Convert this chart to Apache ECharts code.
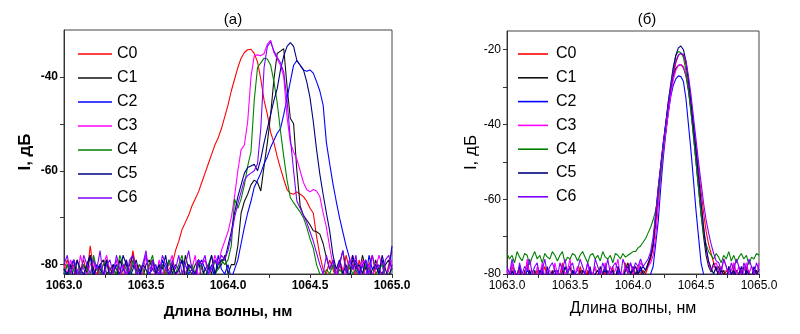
<!DOCTYPE html>
<html><head><meta charset="utf-8">
<script src="https://cdn.jsdelivr.net/npm/echarts@6/dist/echarts.min.js"></script>
<style>html,body{margin:0;padding:0;background:#fff}#c{width:800px;height:334px}</style>
</head><body><div id="c"></div>
<script>
// wavelength grid, nm
const wl = [1063.00,1063.02,1063.04,1063.06,1063.08,1063.10,1063.12,1063.14,1063.16,1063.18,
1063.20,1063.22,1063.24,1063.26,1063.28,1063.30,1063.32,1063.34,1063.36,1063.38,
1063.40,1063.42,1063.44,1063.46,1063.48,1063.50,1063.52,1063.54,1063.56,1063.58,
1063.60,1063.62,1063.64,1063.66,1063.68,1063.70,1063.72,1063.74,1063.76,1063.78,
1063.80,1063.82,1063.84,1063.86,1063.88,1063.90,1063.92,1063.94,1063.96,1063.98,
1064.00,1064.02,1064.04,1064.06,1064.08,1064.10,1064.12,1064.14,1064.16,1064.18,
1064.20,1064.22,1064.24,1064.26,1064.28,1064.30,1064.32,1064.34,1064.36,1064.38,
1064.40,1064.42,1064.44,1064.46,1064.48,1064.50,1064.52,1064.54,1064.56,1064.58,
1064.60,1064.62,1064.64,1064.66,1064.68,1064.70,1064.72,1064.74,1064.76,1064.78,
1064.80,1064.82,1064.84,1064.86,1064.88,1064.90,1064.92,1064.94,1064.96,1064.98,1065.00];

const names = ['C0','C1','C2','C3','C4','C5','C6'];
const colors = ['#ff0000','#111111','#0000ff','#ff00ff','#008000','#000080','#8000ff'];

// panel (a), dB
const a_C0 = [-81,-79,-82,-80,-83,-81,-79,-82,-76,-81,-82,-80,-83,-79,-81,-82,-80,-81,-83,-79,-82,-77,-81,-80,-82,-83,-80,-79,-82,-81,-80,-82,-81,
-80,-77,-75,-72.5,-71,-69.5,-67.5,-66,-64.5,-62.5,-60.5,-58.5,-56.5,-54.5,-53,-51,-48.5,-46,-43,-40.5,-38,-36,-34.8,-34.2,-34.1,-35,-36.8,-40.5,-45,-48,-51.8,-54,-57,-59.5,-61.8,-64,-64.8,-65,-64.5,-65,-65.5,-66.5,-68,-69,-74,-78,-81,
-82,-79,-81,-83,-80,-82,-78,-81,-80,-83,-79,-82,-81,-80,-78,-82,-81,-79,-83,-80,-77];
const a_C1 = [-82,-80,-81,-79,-83,-81,-80,-82,-78,-81,-83,-80,-79,-82,-81,-80,-83,-79,-81,-82,-80,-78,-82,-81,-83,-80,-79,-81,-82,-80,-83,-81,-79,-82,-80,-81,-83,-78,-81,-82,-80,-79,-83,-81,-80,-82,-79,-81,-80,-78,-82,-80,
-80,-76,-69,-66.5,-65,-63,-62,-62.5,-64.3,-59,-54,-48,-40.5,-35,-34.5,-34,-42,-48.8,-50,-60,-67.5,-69.5,-70.5,-71.5,-72.8,-73,-73.5,-75.5,-78.5,-81,
-79,-82,-80,-77,-81,-83,-79,-80,-82,-78,-81,-80,-83,-79,-81,-82,-80,-79,-81];
const a_C2 = [-81,-83,-80,-79,-82,-81,-83,-80,-78,-82,-81,-80,-83,-79,-82,-81,-80,-83,-81,-79,-82,-80,-81,-83,-80,-78,-82,-81,-80,-83,-79,-81,-82,-80,-83,-81,-79,-80,-82,-81,-83,-80,-79,-81,-82,-80,-83,-78,-81,-82,-80,-83,-81,
-79,-75.5,-72,-69,-66.5,-63.5,-62,-60.5,-58.5,-57,-55,-53.5,-52,-51,-48,-44.5,-41,-37.5,-36.5,-37.5,-38.5,-38.8,-38.5,-39.2,-41,-43,-46,-54,-58.5,-62.8,-66.5,-70,-73,-76,-78.5,
-81,-79,-82,-80,-83,-78,-81,-80,-82,-79,-83,-81,-76];
const a_C3 = [-80,-82,-79,-81,-83,-78,-81,-82,-80,-79,-83,-81,-80,-78,-82,-81,-79,-83,-80,-82,-81,-79,-80,-83,-82,-78,-81,-80,-83,-79,-82,-81,-80,-78,-83,-81,-79,-82,-80,-81,-78,-83,-80,-79,-82,-81,-78,-80,
-77,-75,-73,-70,-65.5,-60,-55.5,-54.5,-49.5,-40,-35.5,-35.3,-35.5,-35,-33,-32.2,-34.8,-36.2,-37.5,-40,-48.5,-54,-56,-57.5,-60,-62.5,-64,-64.5,-64,-64.3,-65.5,-69,-72,-76.3,-80,
-82,-79,-81,-83,-80,-78,-82,-81,-79,-83,-80,-82,-81,-78,-80,-83,-81,-79];
const a_C4 = [-82,-80,-83,-81,-79,-82,-80,-81,-83,-78,-81,-82,-80,-79,-83,-81,-82,-78,-80,-81,-83,-79,-82,-80,-81,-83,-80,-78,-82,-81,-80,-83,-79,-81,-82,-80,-78,-83,-81,-80,-82,-79,-81,-83,-80,-78,-82,-81,-79,-80,-79,
-76,-66,-68,-66,-63,-59,-56,-45,-38,-37,-36,-36.2,-37.5,-41,-45.5,-51.5,-57,-62,-65.7,-66.8,-67.8,-68.8,-70,-72,-74.5,-76.5,-80,
-82,-83,-81,-82,-80,-83,-81,-82,-83,-80,-82,-81,-83,-82,-80,-81,-83,-82,-81,-80,-83,-82,-81];
const a_C5 = [-81,-82,-80,-83,-79,-81,-82,-80,-78,-83,-80,-81,-82,-79,-83,-80,-81,-82,-78,-80,-83,-81,-79,-82,-80,-81,-83,-79,-82,-80,-81,-78,-83,-80,-82,-81,-79,-83,-80,-81,-82,-79,-80,-83,-81,-78,-82,-80,-79,
-79,-76,-73,-69,-65.5,-63,-60.5,-59.3,-59,-58.6,-60,-57.5,-54,-51,-48,-45,-42.5,-38.5,-35.5,-33.5,-32.7,-33.5,-36.5,-37.5,-38.5,-41,-44.4,-49.5,-55.5,-60.7,-65,-69,-72.8,-78,-81,
-79,-82,-80,-83,-78,-81,-80,-82,-79,-83,-81,-80,-82,-78,-81,-83,-80];
const a_C6 = [-80,-78,-82,-79,-81,-83,-78,-80,-82,-79,-81,-77,-83,-80,-79,-82,-78,-81,-80,-83,-79,-78,-82,-81,-80,-77,-83,-79,-81,-82,-78,-80,-83,-79,-81,-78,-82,-80,-77,-81,-83,-79,-80,-78,-82,-81,-79,-80,-78,
-79,-77,-74,-70,-67,-64.5,-62,-61,-60.5,-60,-58.5,-51,-38,-33.5,-32.5,-34.5,-35.8,-37,-39,-45,-53,-60,-66.5,-68,-69.5,-71,-73,-75,-77.5,-80,
-82,-78,-81,-79,-83,-80,-77,-82,-79,-81,-78,-83,-80,-79,-82,-78,-81,-80,-83,-79,-78,-81];

// panel (б), dB
const b_C0 = [-80,-81,-78,-80,-81,-79,-82,-80,-77,-81,-80,-82,-79,-81,-80,-78,-81,-82,-80,-79,-81,-80,-77,-82,-80,-81,-79,-80,-82,-78,-80,-81,-79,-82,-80,-78,-81,-80,-82,-79,-81,-80,-78,-82,-79,-80,-81,-77,-80,-82,-79,-81,-78,-80,-79,
-80,-78,-76,-73,-67,-60,-53,-47,-42,-36.5,-31.5,-27,-23.5,-21.5,-21,-21.5,-24,-28.5,-34,-40,-46,-52,-58,-63.5,-68.5,-72,-74.5,-77,-79,
-80,-78,-81,-79,-80,-82,-77,-80,-81,-79,-82,-78,-80,-81,-79,-80,-82];
const b_C1 = [-81,-80,-82,-79,-81,-80,-83,-79,-81,-80,-82,-79,-81,-80,-78,-82,-80,-81,-79,-83,-80,-81,-79,-82,-80,-78,-81,-80,-82,-79,-81,-83,-80,-79,-82,-80,-81,-78,-80,-82,-79,-81,-80,-82,-78,-80,-81,-79,-77,-80,-78,-80,-79,-78,-80,
-79,-77,-75.5,-72,-65,-58,-51.5,-45.5,-40,-35,-30.5,-27,-25,-24.2,-24,-24.8,-27,-31,-36.5,-43,-50,-57,-64,-70,-75,-78,-79.5,
-77,-79,-78,-80,-79,-81,-78,-80,-82,-79,-80,-81,-78,-80,-79,-82,-80,-79,-81];
const b_C2 = [-81,-80,-82,-79,-81,-80,-82,-81,-79,-80,-82,-81,-80,-83,-79,-81,-80,-82,-81,-80,-79,-82,-81,-80,-83,-81,-79,-80,-82,-81,-80,-83,-81,-79,-82,-80,-81,-83,-80,-79,-81,-82,-80,-81,-79,-83,-80,-81,-82,-80,-79,-81,-80,-78,-81,-80,-82,
-80,-78,-72,-66,-57,-49,-42.5,-37,-32.5,-29.5,-27.8,-27,-27.2,-28.5,-33,-40,-47,-55,-63,-70,-77,-80,
-82,-81,-80,-83,-81,-79,-80,-82,-81,-80,-83,-79,-81,-80,-82,-81,-79,-80,-83,-81,-80,-82];
const b_C3 = [-79,-81,-77,-80,-82,-78,-80,-81,-76,-80,-79,-82,-78,-80,-77,-81,-80,-79,-82,-77,-80,-81,-78,-80,-79,-76,-81,-80,-78,-82,-79,-80,-77,-81,-80,-78,-82,-79,-80,-77,-81,-78,-80,-79,-76,-81,-80,-78,-79,-77,-80,-78,-79,-77,-78,
-79,-78,-77,-75,-70,-62,-54,-47.5,-42,-37,-32,-28,-25.5,-24.2,-24,-24.5,-26.5,-30,-35,-40.5,-46.5,-53,-60,-67,-73,-77,-79,
-78,-77,-79,-80,-76,-78,-81,-79,-77,-80,-78,-82,-79,-77,-80,-78,-79,-81,-77];
const b_C4 = [-74.5,-76,-75,-77,-74,-75.5,-76.5,-74.5,-75,-77.5,-75.5,-74,-76,-75,-77,-74.5,-75.5,-76,-74,-75,-76.5,-75,-74,-77,-75.5,-76,-74.5,-75,-76.5,-75,-74,-75.5,-77,-75,-74.5,-76,-75,-76.5,-74,-75.5,-76,-75,-77,-74.5,-75,-76,-74.5,-75.5,
-75,-74.5,-74,-74,-73,-72.5,-71.5,-70.5,-69,-67.5,-65.5,-63,-59,-53,-46,-40,-34,-29,-24.5,-21.5,-20.5,-20.8,-22,-25.5,-30.5,-36.5,-43,-50,-57,-64,-69,-72,-74,-75,
-76,-74.5,-75.5,-77,-75,-76,-74,-76.5,-75,-77,-75.5,-74.5,-76,-75,-77.5,-75.5,-76,-74.5,-75];
const b_C5 = [-80,-82,-79,-81,-80,-78,-82,-80,-81,-79,-81,-80,-83,-79,-80,-82,-78,-81,-80,-79,-82,-80,-81,-78,-80,-83,-79,-81,-80,-82,-79,-80,-81,-78,-82,-80,-79,-81,-80,-78,-81,-80,-79,-82,-78,-80,-81,-79,-78,-80,-79,-78,-80,-79,-78,
-79,-77.5,-75,-72,-64,-57,-51,-45,-39.5,-34,-29.5,-25,-21.5,-19.5,-19,-20,-23,-28,-34,-40.5,-47,-54,-61,-67.5,-73,-76.5,-78.5,
-80,-78,-81,-79,-80,-82,-78,-80,-79,-81,-80,-78,-82,-79,-80,-81,-78,-80,-79];
const b_C6 = [-78,-80,-76,-79,-81,-77,-80,-78,-79,-76,-80,-78,-77,-81,-79,-76,-80,-78,-77,-79,-81,-77,-79,-76,-80,-78,-77,-80,-79,-76,-78,-80,-77,-79,-81,-76,-78,-80,-77,-79,-76,-80,-78,-77,-79,-81,-76,-78,-80,-77,-79,-77,-78,-76,
-78,-77,-76,-74,-70,-64,-57,-51,-45,-40,-35,-30,-26,-23,-21.5,-21,-21.2,-23,-27,-32,-38,-44,-50,-55.5,-61,-65.5,-69,-72,-74.5,-76.5,
-77,-79,-76,-78,-80,-77,-79,-76,-78,-80,-77,-79,-76,-78,-80,-77,-79];

const panelA = [a_C0,a_C1,a_C2,a_C3,a_C4,a_C5,a_C6];
const panelB = [b_C0,b_C1,b_C2,b_C3,b_C4,b_C5,b_C6];

const xTicks = [1063,1063.25,1063.5,1063.75,1064,1064.25,1064.5,1064.75,1065];
const xLabels = [1063,1063.5,1064,1064.5,1065];
const aYTicks = [-80,-70,-60,-50,-40];
const aYLabels = [-80,-60,-40];
const bYTicks = [-80,-70,-60,-50,-40,-30,-20];
const bYLabels = [-80,-60,-40,-20];

const FONT = '"Liberation Sans", Arial, sans-serif';
const chart = echarts.init(document.getElementById('c'), null, {renderer:'canvas'});

function xAxis(gi, bold, gap) {
  return {
    type:'value', gridIndex: gi, min:1063, max:1065,
    axisLine:{show:true, lineStyle:{color:'#333', width:1}},
    axisTick:{show:true, inside:false, length:4, customValues:xTicks, lineStyle:{color:'#333'}},
    axisLabel:{customValues:xLabels, formatter:v=>v.toFixed(1), color:'#000', fontSize:12,
      fontWeight: bold?'bold':'normal', fontFamily:FONT, margin:6},
    splitLine:{show:false},
    name:'Длина волны, нм', nameLocation:'middle', nameGap:gap,
    nameTextStyle:{color:'#000', fontSize: bold?15:16, fontWeight: bold?'bold':'normal', fontFamily:FONT}
  };
}
function yAxis(gi, min, max, ticks, labels, bold, gap) {
  return {
    type:'value', gridIndex: gi, min:min, max:max,
    axisLine:{show:true, lineStyle:{color:'#333', width:1}},
    axisTick:{show:true, inside:false, length:4, customValues:ticks, lineStyle:{color:'#333'}},
    axisLabel:{customValues:labels, color:'#000', fontSize:12,
      fontWeight: bold?'bold':'normal', fontFamily:FONT, margin:6},
    splitLine:{show:false},
    name:'I, дБ', nameLocation:'middle', nameGap:gap, nameRotate:90,
    nameTextStyle:{color:'#000', fontSize:17, fontWeight: bold?'bold':'normal', fontFamily:FONT}
  };
}

const series = [];
panelA.forEach((arr, k) => series.push({
  name:names[k], type:'line', xAxisIndex:0, yAxisIndex:0, symbol:'none', animation:false,
  lineStyle:{width:1.1, color:colors[k]}, itemStyle:{color:colors[k]},
  data: wl.map((x,i)=>[x, arr[i]])
}));
panelB.forEach((arr, k) => series.push({
  name:names[k], type:'line', xAxisIndex:1, yAxisIndex:1, symbol:'none', animation:false,
  lineStyle:{width:1.1, color:colors[k]}, itemStyle:{color:colors[k]},
  data: wl.map((x,i)=>[x, arr[i]])
}));

chart.setOption({
  animation:false,
  backgroundColor:'#fff',
  title:[
    {text:'(a)', left:228, top:7, textAlign:'center', textStyle:{fontSize:15, fontWeight:'normal', color:'#000', fontFamily:FONT}},
    {text:'(б)', left:642, top:7, textAlign:'center', textStyle:{fontSize:15, fontWeight:'normal', color:'#000', fontFamily:FONT}}
  ],
  grid:[
    {left:64, top:30, width:328, height:244, show:true, borderColor:'#444', borderWidth:1, backgroundColor:'transparent'},
    {left:507, top:31, width:252, height:243, show:true, borderColor:'#444', borderWidth:1, backgroundColor:'transparent'}
  ],
  legend:[
    {orient:'vertical', left:78, top:46, padding:0, icon:'rect', itemWidth:34, itemHeight:1.6, itemGap:8, selectedMode:false,
     textStyle:{fontSize:16, lineHeight:16, color:'#000', fontFamily:FONT}, data:names},
    {orient:'vertical', left:518, top:46, padding:0, icon:'rect', itemWidth:30, itemHeight:1.6, itemGap:7.8, selectedMode:false,
     textStyle:{fontSize:16, lineHeight:16, color:'#000', fontFamily:FONT, padding:[0,0,0,3]}, data:names}
  ],
  xAxis:[xAxis(0,true,30), xAxis(1,false,27)],
  yAxis:[yAxis(0,-82,-30,aYTicks,aYLabels,true,30), yAxis(1,-80,-15,bYTicks,bYLabels,false,26)],
  series: series
});
</script></body></html>
